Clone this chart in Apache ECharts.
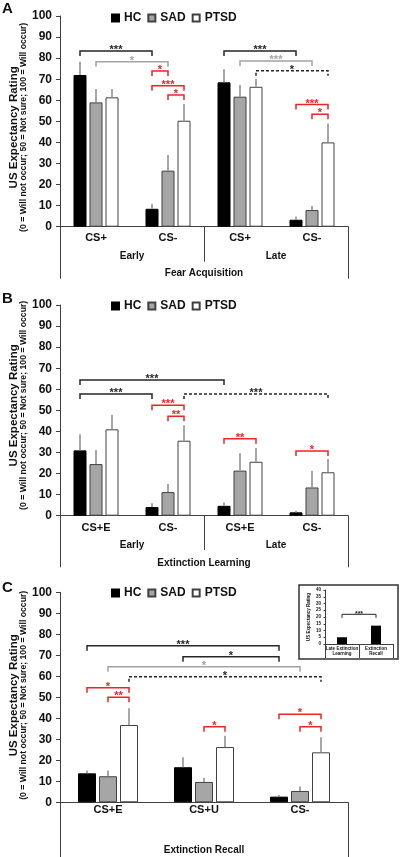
<!DOCTYPE html>
<html><head><meta charset="utf-8">
<script src="https://cdn.jsdelivr.net/npm/echarts@6/dist/echarts.min.js"></script>
<style>html,body{margin:0;padding:0;background:#fff}#c{width:400px;height:857px}</style>
</head><body><div id="c"></div>
<script>
const groups = ['HC', 'SAD', 'PTSD'];

// Panel A - Fear Acquisition
const catsA = ['CS+', 'CS-', 'CS+', 'CS-'];
const phasesA = ['Early', 'Late'];
const stageA = ['Fear Acquisition'];
const hcA = [72, 8.5, 68.5, 3.3];
const sadA = [59, 26.6, 61.7, 7.9];
const ptsdA = [61.4, 50.3, 66.4, 40];
const hcErrA = [6.3, 2.4, 6.2, 1.5];
const sadErrA = [6.4, 7.4, 5.6, 1.9];
const ptsdErrA = [4, 7.9, 3.7, 9];
const bracketsA = [[0,0,1,0,83.4],[0,1,1,1,78.3],[1,0,1,1,73.9],[1,0,1,2,66.9],[1,1,1,2,62.5],
                   [2,0,3,0,83.4],[2,1,3,1,78.6],[2,2,3,2,74],[3,0,3,2,58],[3,1,3,2,53.4]];
const bracketLabelsA = ['***','*','*','***','*','***','***','*','***','*'];
const bracketKindsA = ['black','gray','red','red','red','black','gray','dash','red','red'];

// Panel B - Extinction Learning
const catsB = ['CS+E', 'CS-', 'CS+E', 'CS-'];
const phasesB = ['Early', 'Late'];
const stageB = ['Extinction Learning'];
const hcB = [31, 4.1, 4.7, 1.6];
const sadB = [24.5, 11.2, 21.4, 13.4];
const ptsdB = [41, 35.6, 25.6, 20.6];
const hcErrB = [7.6, 1.8, 1.6, 0.8];
const sadErrB = [6.7, 3.8, 8.2, 7.8];
const ptsdErrB = [6.8, 7.3, 6.5, 6.3];
const bracketsB = [[0,0,2,0,64.4],[0,0,1,0,57.8],[1,0,1,2,52.4],[1,1,1,2,47.2],[1,2,3,2,57.8],[2,0,2,2,36.5],[3,0,3,2,30.7]];
const bracketLabelsB = ['***','***','***','**','***','**','*'];
const bracketKindsB = ['black','black','red','red','dash','red','red'];

// Panel C - Extinction Recall
const catsC = ['CS+E', 'CS+U', 'CS-'];
const stageC = ['Extinction Recall'];
const hcC = [13.8, 16.7, 2.7];
const sadC = [12.4, 9.7, 5.4];
const ptsdC = [36.8, 26.3, 23.8];
const hcErrC = [1.3, 4.7, 0.8];
const sadErrC = [2.7, 2, 2.1];
const ptsdErrC = [8, 5.4, 7.2];
const bracketsC = [[0,0,2,0,74.6],[1,0,2,0,69.3],[0,1,2,1,64.6],[0,2,2,2,59.8],[0,0,0,2,54.6],[0,1,0,2,50],[1,1,1,2,36],[2,0,2,2,41.9],[2,1,2,2,36]];
const bracketLabelsC = ['***','*','*','*','*','**','*','*','*'];
const bracketKindsC = ['black','black','gray','dash','red','red','red','red','red'];

// Inset
const insetCats = ['Late Extinction\nLearning', 'Extinction\nRecall'];
const insetVals = [5, 13.6];
const insetBrackets = [[0,0,1,0,22]];
const insetBracketLabels = ['***'];
const insetBracketKinds = ['black'];

const yTicks = [0, 100, 10];
const insetTicks = [0, 40, 5];

const FF = '"Liberation Sans", Arial, sans-serif';
const AX = '#404040';
const KIND = {
  black: {color: '#262626', dash: null},
  gray: {color: '#a3a3a3', dash: null},
  red: {color: '#ec2424', dash: null},
  dash: {color: '#262626', dash: [3, 2]}
};
const STY = [
  {color: '#000', borderColor: '#000', borderWidth: 1},
  {color: '#a6a6a6', borderColor: '#404040', borderWidth: 1},
  {color: '#fff', borderColor: '#404040', borderWidth: 1}
];

function errRender(off) {
  return function (params, api) {
    const cat = api.value(0), v = api.value(1), e = api.value(2), g = api.value(3);
    const p0 = api.coord([cat, v]), p1 = api.coord([cat, v + e]);
    const x = p0[0] + (g - 1) * off;
    return {type: 'line', shape: {x1: x, y1: p0[1], x2: x, y2: p1[1]},
      style: {stroke: '#8a8a8a', lineWidth: 1.5}};
  };
}
function bracketRender(off, labels, kinds, fs, tick, lw) {
  return function (params, api) {
    const c1 = api.value(0), g1 = api.value(1), c2 = api.value(2), g2 = api.value(3), lv = api.value(4);
    const x1 = api.coord([c1, lv])[0] + (g1 - 1) * off;
    const x2 = api.coord([c2, lv])[0] + (g2 - 1) * off;
    const y = api.coord([c1, lv])[1];
    const k = KIND[kinds[params.dataIndex]];
    return {type: 'group', children: [
      {type: 'polyline', shape: {points: [[x1, y + tick], [x1, y], [x2, y], [x2, y + tick]]},
        style: {stroke: k.color, lineWidth: lw, fill: 'none', lineDash: k.dash}},
      {type: 'text', style: {text: labels[params.dataIndex], x: (x1 + x2) / 2, y: y - 1 * fs / 11,
        align: 'center', verticalAlign: 'middle', fill: k.color, font: 'bold ' + fs + 'px ' + FF}}
    ]};
  };
}
function errData(vals, errs) {
  const out = [];
  vals.forEach((arr, g) => arr.forEach((v, i) => out.push([i, v, errs[g][i], g])));
  return out;
}

const grids = [
  {left: 60, right: 52, top: 16, height: 210.7},
  {left: 60, right: 52, top: 305, height: 210.7},
  {left: 60, right: 52, top: 592.3, height: 210},
  {left: 325, right: 7, top: 590, height: 54}
].map(g => Object.assign({outerBoundsMode: 'none', containLabel: false}, g));

function catAxis(gi, data, margin, fs, tickLen, showLine) {
  return {
    type: 'category', gridIndex: gi, data: data, position: 'bottom',
    axisLine: {show: showLine, onZero: false, lineStyle: {color: AX, width: 1}},
    axisTick: {show: tickLen > 0, length: tickLen, interval: 0, alignWithLabel: false, lineStyle: {color: AX, width: 1}},
    axisLabel: {interval: 0, margin: margin, fontFamily: FF, fontWeight: 'bold', fontSize: fs, color: '#111'},
    splitLine: {show: false}
  };
}
const xAxes = [
  catAxis(0, catsA, 6, 11, 0, true),
  catAxis(0, phasesA, 25, 10, 35, false),
  catAxis(0, stageA, 42, 10, 52, false),
  catAxis(1, catsB, 6.5, 11, 0, true),
  catAxis(1, phasesB, 24.5, 10, 34.3, false),
  catAxis(1, stageB, 42.5, 10, 51.6, false),
  catAxis(2, catsC, 2.5, 11, 0, true),
  catAxis(2, stageC, 42.5, 10, 55, false),
  catAxis(3, insetCats, 2, 4.5, 14, true)
];
xAxes[8].axisLabel.lineHeight = 5;

function valAxis(gi, ticks, shift) {
  const pad = shift >= 0 ? [0, 2 * shift, 0, 0] : [0, 0, 0, -2 * shift];
  return {
    type: 'value', gridIndex: gi, min: ticks[0], max: ticks[1], interval: ticks[2],
    axisLine: {show: true, lineStyle: {color: AX, width: 1}},
    axisTick: {show: true, length: 4, lineStyle: {color: AX}},
    axisLabel: {margin: 8, fontFamily: FF, fontWeight: 'bold', fontSize: 12, color: '#111'},
    splitLine: {show: false},
    name: '{a|US Expectancy Rating}\n{b|(0 = Will not occur; 50 = Not sure; 100 = Will occur)}',
    nameLocation: 'middle', nameRotate: 90, nameGap: 32, nameMoveOverlap: false,
    nameTextStyle: {padding: pad, rich: {
      a: {fontFamily: FF, fontWeight: 'bold', fontSize: 11.5, lineHeight: 11, color: '#111'},
      b: {fontFamily: FF, fontWeight: 'bold', fontSize: 8.7, lineHeight: 9, color: '#111'}
    }}
  };
}
const yAxes = [valAxis(0, yTicks, 6), valAxis(1, yTicks, -5), valAxis(2, yTicks, -2),
  {
    type: 'value', gridIndex: 3, min: insetTicks[0], max: insetTicks[1], interval: insetTicks[2],
    axisLine: {show: true, lineStyle: {color: AX, width: 1}},
    axisTick: {show: true, length: 1.5, lineStyle: {color: AX}},
    axisLabel: {margin: 4, fontFamily: FF, fontWeight: 'bold', fontSize: 4.5, color: '#111'},
    splitLine: {show: false},
    name: 'US Expectancy Rating', nameLocation: 'middle', nameRotate: 90, nameGap: 14, nameMoveOverlap: false,
    nameTextStyle: {fontFamily: FF, fontWeight: 'bold', fontSize: 4.5, color: '#111'}
  }];

const series = [];
function addPanel(xi, yi, vals, errs, bw, gap, br, brLabels, brKinds) {
  vals.forEach((arr, g) => series.push({
    type: 'bar', name: groups[g], xAxisIndex: xi, yAxisIndex: yi, data: arr,
    barWidth: bw, barGap: (gap / bw * 100) + '%', itemStyle: STY[g], silent: true
  }));
  series.push({type: 'custom', xAxisIndex: xi, yAxisIndex: yi, silent: true, z: 5,
    renderItem: errRender(bw + gap), data: errData(vals, errs)});
  series.push({type: 'custom', xAxisIndex: xi, yAxisIndex: yi, silent: true, z: 6, clip: false,
    renderItem: bracketRender(bw + gap, brLabels, brKinds, 11, 5, 1.5), data: br});
}
addPanel(0, 0, [hcA, sadA, ptsdA], [hcErrA, sadErrA, ptsdErrA], 13, 3, bracketsA, bracketLabelsA, bracketKindsA);
addPanel(3, 1, [hcB, sadB, ptsdB], [hcErrB, sadErrB, ptsdErrB], 13, 3, bracketsB, bracketLabelsB, bracketKindsB);
addPanel(6, 2, [hcC, sadC, ptsdC], [hcErrC, sadErrC, ptsdErrC], 18, 3, bracketsC, bracketLabelsC, bracketKindsC);
series.push({type: 'bar', name: 'Inset', xAxisIndex: 8, yAxisIndex: 3, data: insetVals, barWidth: 10,
  itemStyle: {color: '#000'}, silent: true});
series.push({type: 'custom', xAxisIndex: 8, yAxisIndex: 3, silent: true, z: 6, clip: false,
  renderItem: bracketRender(0, insetBracketLabels, insetBracketKinds, 7, 3.5, 1), data: insetBrackets});

function legend(top) {
  return {data: groups, left: 111, top: top, padding: 0, itemWidth: 7, itemHeight: 7, itemGap: 6,
    icon: 'rect', selectedMode: false,
    textStyle: {fontFamily: FF, fontWeight: 'bold', fontSize: 12, color: '#111'}};
}

const option = {
  animation: false,
  backgroundColor: '#fff',
  title: [
    {text: 'A', left: 2, top: 1, padding: 0, textStyle: {fontFamily: FF, fontWeight: 'bold', fontSize: 15, color: '#111'}},
    {text: 'B', left: 2, top: 291, padding: 0, textStyle: {fontFamily: FF, fontWeight: 'bold', fontSize: 15, color: '#111'}},
    {text: 'C', left: 2, top: 580, padding: 0, textStyle: {fontFamily: FF, fontWeight: 'bold', fontSize: 15, color: '#111'}}
  ],
  legend: [legend(12), legend(300), legend(587)],
  grid: grids,
  xAxis: xAxes,
  yAxis: yAxes,
  graphic: [{type: 'rect', shape: {x: 299, y: 585, width: 99, height: 74}, z: 0,
    style: {fill: 'none', stroke: '#333', lineWidth: 1.5}}],
  series: series
};
const chart = echarts.init(document.getElementById('c'), null, {renderer: 'canvas'});
chart.setOption(option);
</script></body></html>
